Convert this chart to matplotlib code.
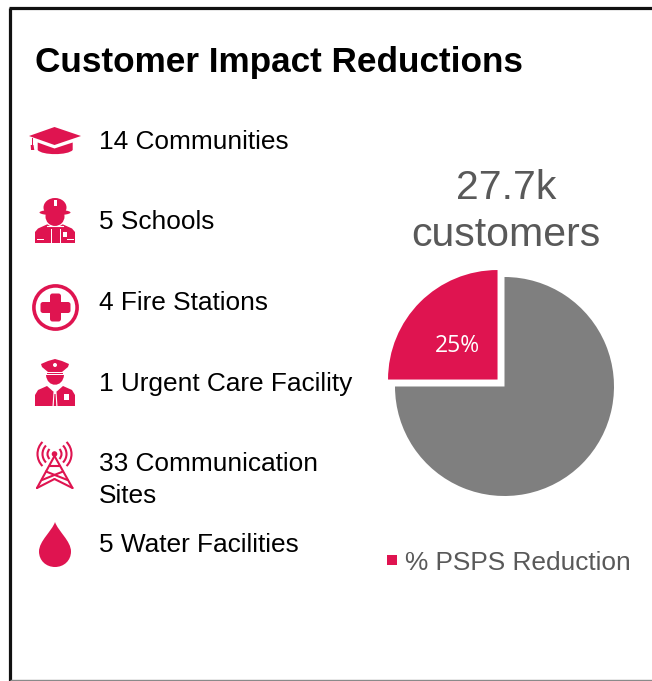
import matplotlib
matplotlib.use('Agg')
import matplotlib.pyplot as plt
import numpy as np
from matplotlib.patches import Circle, Ellipse, PathPatch, Polygon, Rectangle, FancyBboxPatch, Arc, Patch
from matplotlib.path import Path

plt.rcParams['font.family'] = ['Liberation Sans', 'DejaVu Sans']

# chart data
title = 'Customer Impact Reductions'
impact_labels = ['14 Communities', '5 Schools', '4 Fire Stations', '1 Urgent Care Facility',
                 '33 Communication\nSites', '5 Water Facilities']
pie_values = [25, 75]
pie_heading = '27.7k\ncustomers'
legend_label = '% PSPS Reduction'

RED = '#DF1450'
GRAY = '#7F7F7F'
TEXT_GRAY = '#595959'
W, H = 652, 681

fig = plt.figure(figsize=(W / 100, H / 100), dpi=100)
# full-figure axes measured in pixels, y pointing down
ax = fig.add_axes([0, 0, 1, 1])
ax.set_xlim(0, W)
ax.set_ylim(H, 0)
ax.axis('off')

# slide border
ax.plot([9.8, 9.8], [8, H], color='#111111', lw=2.3, solid_capstyle='butt')
ax.plot([8.6, W], [8.2, 8.2], color='#111111', lw=2.3, solid_capstyle='butt')
ax.plot([10, W], [680.3, 680.3], color='#8a8a8a', lw=1.0, solid_capstyle='butt')


def poly(points, color=RED, zorder=3):
    ax.add_patch(Polygon(points, closed=True, fc=color, ec='none', zorder=zorder))


def rect(x, y, w, h, color=RED, zorder=3):
    ax.add_patch(Rectangle((x, y), w, h, fc=color, ec='none', zorder=zorder))


def bezier(verts, zorder=3, color=RED):
    codes = [Path.MOVETO] + [Path.CURVE4] * (len(verts) - 2) + [Path.CLOSEPOLY]
    ax.add_patch(PathPatch(Path(verts, codes), fc=color, ec='none', zorder=zorder))


def draw_cap():
    poly([(29, 136), (54.5, 127), (81, 136), (54.5, 145)])
    bezier([(37.7, 142.5), (43, 144.5), (49, 146.5), (54.5, 148.5), (60, 146.5), (67, 144.5), (72.7, 142.5),
            (72.7, 146), (72.7, 148), (72.7, 150), (68, 155.5), (42, 155.5), (37.7, 150),
            (37.7, 148), (37.7, 146), (37.7, 142.5), (37.7, 142.5)])
    rect(31.5, 138, 1.3, 7)
    poly([(30.7, 145), (33.5, 145), (34.3, 150), (31, 150)])


def draw_firefighter():
    # body
    poly([(35, 243), (35, 232), (38, 228.5), (48, 224), (62, 224), (72, 228.5), (75, 232), (75, 243)])
    # face and white collar gap
    ax.add_patch(Circle((55, 215), 12, fc='white', ec='none', zorder=4))
    ax.add_patch(Ellipse((55, 216.5), 19, 19, fc=RED, ec='none', zorder=5))
    rect(44, 208, 22, 5, 'white', 5)
    # helmet
    ax.add_patch(Ellipse((55, 207.5), 23, 19, fc=RED, ec='none', zorder=6))
    ax.add_patch(Ellipse((55, 212.5), 31, 5.5, fc=RED, ec='none', zorder=6))
    rect(53.5, 200, 3, 6, 'white', 7)
    # uniform details
    rect(50.5, 229, 1, 14, 'white', 7)
    rect(59.5, 229, 1, 14, 'white', 7)
    rect(37, 239, 7, 1.3, 'white', 7)
    rect(67, 239, 7, 1.3, 'white', 7)
    rect(62.5, 231.5, 4, 5, 'white', 7)
    ax.plot([47, 63], [226, 226], color='white', lw=0.8, zorder=7)


def draw_medical():
    ax.add_patch(Circle((55.5, 307.5), 21.6, fc='none', ec=RED, lw=2.6, zorder=3))
    ax.add_patch(FancyBboxPatch((50, 293.5), 11, 28, boxstyle='round,pad=0,rounding_size=2.5',
                                fc=RED, ec='none', zorder=3))
    ax.add_patch(FancyBboxPatch((40.5, 302), 30, 11, boxstyle='round,pad=0,rounding_size=2.5',
                                fc=RED, ec='none', zorder=3))


def draw_officer():
    # cap
    poly([(41, 364), (48, 361), (55, 359), (62, 361), (69, 364), (68, 367), (62, 372), (48, 372), (42, 367)])
    rect(47, 372.6, 16, 1.0, RED)
    ax.add_patch(Circle((55, 365), 2, fc='white', ec='none', zorder=4))
    # face
    bezier([(46, 375), (47, 388), (63, 388), (64, 375), (46, 375)])
    # body
    poly([(35, 406), (35, 395), (38, 390), (47, 386), (55, 393), (63, 386), (72, 390), (75, 395), (75, 406)])
    poly([(53.5, 392), (56.5, 392), (57.5, 406), (52.5, 406)], 'white', 4)
    poly([(54.4, 394), (55.6, 394), (56.3, 406), (53.7, 406)], RED, 5)
    rect(64, 394, 5, 5.5, 'white', 4)


def draw_tower():
    top = (54.5, 456)
    kw = dict(color=RED, lw=1.5, solid_capstyle='round', zorder=3)
    ax.plot([top[0], 37], [top[1], 488], **kw)
    ax.plot([top[0], 72.5], [top[1], 488], **kw)
    ax.plot([46, 67.5], [471.5, 480], **kw)
    ax.plot([63, 42], [471.5, 480], **kw)
    ax.plot([49.5, 59.5], [466, 466], **kw)
    ax.plot([37, 54.5], [488, 479], **kw)
    ax.plot([72.5, 54.5], [488, 479], **kw)
    ax.add_patch(Circle((top[0], 454), 2.8, fc=RED, ec='none', zorder=3))
    for r in (7, 12, 17):
        ax.add_patch(Arc((top[0], 454), 2 * r, 2 * r, theta1=-45, theta2=45, color=RED, lw=1.5, zorder=3))
        ax.add_patch(Arc((top[0], 454), 2 * r, 2 * r, theta1=135, theta2=225, color=RED, lw=1.5, zorder=3))


def draw_drop():
    bezier([(55, 522), (52, 531), (39, 541), (39, 551.5), (39, 560.5), (46, 567), (55, 567),
            (64, 567), (71, 560.5), (71, 551.5), (71, 541), (58, 531), (55, 522), (55, 522)])


for draw_icon in (draw_cap, draw_firefighter, draw_medical, draw_officer, draw_tower, draw_drop):
    draw_icon()

ax.text(35, 62.5, title, fontsize=25.3, fontweight='bold', color='black', ha='left', va='center')

# list of affected facilities
label_y = [142, 222, 303, 384, 480, 545]
for label, y in zip(impact_labels, label_y):
    ax.text(99, y, label, fontsize=18.95, color='black', ha='left', va='center', linespacing=1.38)

ax.text(506, 211.5, pie_heading, fontsize=29.5, color=TEXT_GRAY, ha='center', va='center', linespacing=1.28)

# pie drawn in its own axes, sized so the exploded wedge stays inside
radius_px = 109.5
margin = 1.2
cx, cy = 504.5, 386.5
box = radius_px * margin
pie_ax = fig.add_axes([(cx - box) / W, 1 - (cy + box) / H, 2 * box / W, 2 * box / H])
wedges, _, autotexts = pie_ax.pie(pie_values, colors=[RED, GRAY], startangle=90, explode=[0.09, 0],
                                  autopct='%d%%', pctdistance=0.5, radius=1,
                                  textprops=dict(color='white', family='Open Sans', fontsize=16.5))
autotexts[1].set_visible(False)
label_x, label_y_pos = autotexts[0].get_position()
autotexts[0].set_position((label_x - 0.01, label_y_pos - 0.05))
pie_ax.set_xlim(-margin, margin)
pie_ax.set_ylim(-margin, margin)

fig.legend(handles=[Patch(fc=RED, ec='none')], labels=[legend_label], loc='center left',
           bbox_to_anchor=(387 / W, 1 - 562.5 / H), frameon=False, fontsize=18.9, labelcolor=TEXT_GRAY,
           handlelength=0.38, handleheight=0.21, handletextpad=0.3, borderpad=0, borderaxespad=0)

fig.savefig('out.png', dpi=100)
